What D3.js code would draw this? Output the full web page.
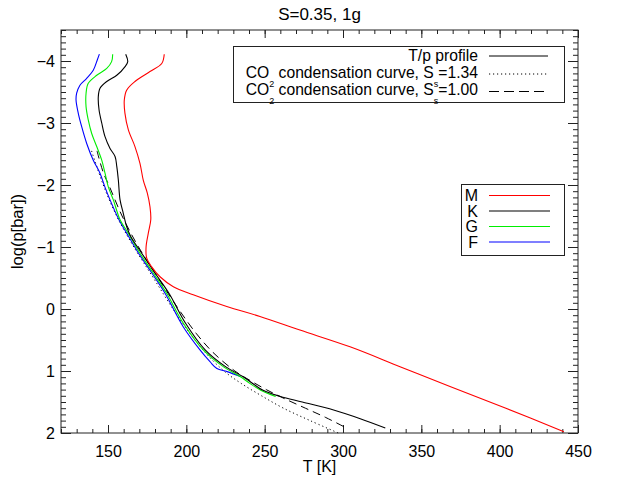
<!DOCTYPE html>
<html><head><meta charset="utf-8">
<script src="https://cdn.jsdelivr.net/npm/d3@7"></script>
<style>
body{margin:0;background:#fff}
text{font-family:"Liberation Sans",Arial,Helvetica,sans-serif;fill:#000}
</style>
</head><body>
<svg id="chart" width="617" height="477"></svg>
<script>
const title = "S=0.35, 1g";
const xLabel = "T [K]";
const yLabel = "log(p[bar])";
const xDomain = [120, 450];
const yDomain = [-4.5, 2];
const xTickValues = [150, 200, 250, 300, 350, 400, 450];
const yTickValues = [-4, -3, -2, -1, 0, 1, 2];

// M star profile
const mLogP = [-4.11,-3.96,-3.83,-3.67,-3.53,-3.37,-3.16,-2.89,-2.62,-2.35,-2.08,-1.87,-1.65,-1.44,-1.22,-1.0,-0.82,-0.68,-0.52,-0.36,-0.23,-0.04,0.12,0.34,0.61,0.93,1.25,1.6,1.98];
const mT    = [185.9,184.3,176.8,167.2,161.9,160.4,160.8,163,167.2,170.4,172.5,175.1,176.8,177.3,175.7,174.3,174.7,177.9,183.2,191.7,204.4,225.8,247,272.5,304.5,336.4,368.3,404,441];
// K star profile
const kLogP = [-4.11,-3.99,-3.91,-3.77,-3.67,-3.56,-3.42,-3.21,-3.0,-2.78,-2.59,-2.46,-2.30,-2.08,-1.76,-1.54,-1.33,-1.17,-0.90,-0.58,-0.25,0.23,0.66,0.93,1.09,1.31,1.41,1.5,1.63,1.77,1.92];
const kT    = [161.3,162.6,160.9,155.6,149.2,144.9,143.8,144.3,146,148.1,151.3,154.5,155.6,156.6,157.7,159.8,161.9,164.5,171.5,180,189,199.5,212,225,236,249,260,274,294,311,327];
// G star profile
const gLogP = [-4.11,-3.99,-3.88,-3.77,-3.64,-3.48,-3.26,-3.05,-2.83,-2.62,-2.40,-2.19,-1.97,-1.76,-1.44,-1.22,-0.90,-0.58,-0.25,0.23,0.66,0.93,1.09,1.2,1.31,1.41];
const gT    = [153,152.3,149.2,142.8,137.4,136,136,137.4,139.6,142.8,146,148.1,150.2,153.4,157.7,163,170.4,178.9,187.5,198.1,210.8,223.6,234.3,240.5,247.5,257];
// F star profile
const fLogP = [-4.11,-4.02,-3.85,-3.72,-3.61,-3.48,-3.37,-3.16,-2.94,-2.67,-2.40,-2.19,-1.97,-1.76,-1.44,-1.22,-0.90,-0.58,-0.25,0.29,0.66,0.85,0.96,1.01,1.09];
const fT    = [144.5,143.2,140.6,136.4,132.1,130,129.6,131,133.2,136.4,140.6,144.9,148,151.3,157,162,169.5,178,186.5,198.1,208.7,215.1,219.5,226,234.5];
// CO2 condensation curve, Ss = 1.34 (dotted)
const cond134LogP = [-2.55,-2.0,-1.5,-1.0,-0.5,0.0,0.4,0.7,1.0,1.2,1.4,1.6,1.8,2.0];
const cond134T    = [139.5,147,155.5,166.5,179,191.5,202.5,212,224,235,248,262,279,297];
// CO2 condensation curve, Ss = 1.00 (dashed)
const cond100LogP = [-2.55,-2.2,-2.0,-1.5,-1.0,-0.5,0.0,0.4,0.7,1.0,1.15,1.3,1.45,1.6,1.75,1.93];
const cond100T    = [143,147,150.5,159,169.5,182,195,206.5,217,231,240.5,251,263,276,289,303];

const starNames  = ["M", "K", "G", "F"];
const starColors = ["#ff0000", "#000000", "#00ee00", "#0000ff"];

const svg = d3.select("#chart");
const X0 = 61, X1 = 578, Y0 = 30, Y1 = 433;
const x = d3.scaleLinear().domain(xDomain).range([X0, X1]);
const y = d3.scaleLinear().domain(yDomain).range([Y0, Y1]);

const minorX = d3.range(xDomain[0], xDomain[1] + 0.1, 10);
const minorY = d3.range(-45, 21).map(v => v / 10);

function styleAxis(g) {
  g.select(".domain").remove();
  g.selectAll(".tick line").attr("stroke", "#222").attr("stroke-width", 1);
  g.selectAll("text").style("font-size", "16px").attr("fill", "#000");
}

// bottom axis
svg.append("g").attr("transform", `translate(0,${Y1})`)
  .call(d3.axisBottom(x).tickValues(minorX).tickSizeInner(-4).tickSizeOuter(0).tickFormat(""))
  .call(styleAxis);
svg.append("g").attr("transform", `translate(0,${Y1})`)
  .call(d3.axisBottom(x).tickValues(xTickValues).tickSizeInner(-8).tickSizeOuter(0).tickPadding(13).tickFormat(d3.format("d")))
  .call(styleAxis);
// top axis
svg.append("g").attr("transform", `translate(0,${Y0})`)
  .call(d3.axisTop(x).tickValues(minorX).tickSizeInner(-4).tickSizeOuter(0).tickFormat(""))
  .call(styleAxis);
svg.append("g").attr("transform", `translate(0,${Y0})`)
  .call(d3.axisTop(x).tickValues(xTickValues).tickSizeInner(-8).tickSizeOuter(0).tickFormat(""))
  .call(styleAxis);
// left axis
svg.append("g").attr("transform", `translate(${X0},0)`)
  .call(d3.axisLeft(y).tickValues(minorY).tickSizeInner(-5).tickSizeOuter(0).tickFormat(""))
  .call(styleAxis);
svg.append("g").attr("transform", `translate(${X0},0)`)
  .call(d3.axisLeft(y).tickValues(yTickValues).tickSizeInner(-10).tickSizeOuter(0).tickPadding(6).tickFormat(d3.format("d")))
  .call(styleAxis);
// right axis
svg.append("g").attr("transform", `translate(${X1},0)`)
  .call(d3.axisRight(y).tickValues(minorY).tickSizeInner(-5).tickSizeOuter(0).tickFormat(""))
  .call(styleAxis);
svg.append("g").attr("transform", `translate(${X1},0)`)
  .call(d3.axisRight(y).tickValues(yTickValues).tickSizeInner(-10).tickSizeOuter(0).tickFormat(""))
  .call(styleAxis);

// frame
svg.append("rect").attr("x", X0).attr("y", Y0).attr("width", X1 - X0).attr("height", Y1 - Y0)
  .attr("fill", "none").attr("stroke", "#222").attr("stroke-width", 1);

// curves
const line = d3.line().x(d => x(d[0])).y(d => y(d[1])).curve(d3.curveCatmullRom.alpha(0.5));
const zip = (t, p) => t.map((v, i) => [v, p[i]]);
const plot = svg.append("g");
plot.append("path").datum(zip(cond134T, cond134LogP)).attr("d", line)
  .style("fill", "none").style("stroke", "#000").style("stroke-width", 1).style("stroke-dasharray", "1.2,2.8");
plot.append("path").datum(zip(cond100T, cond100LogP)).attr("d", line)
  .style("fill", "none").style("stroke", "#000").style("stroke-width", 1).style("stroke-dasharray", "8,5");
const profiles = [[fT, fLogP, 3], [gT, gLogP, 2], [kT, kLogP, 1], [mT, mLogP, 0]];
profiles.forEach(([t, p, ci]) => {
  plot.append("path").datum(zip(t, p)).attr("d", line)
    .style("fill", "none").style("stroke", starColors[ci]).style("stroke-width", 1.1);
});

// title and axis labels
svg.append("text").attr("x", (X0 + X1) / 2).attr("y", 20).attr("text-anchor", "middle")
  .style("font-size", "17px").text(title);
svg.append("text").attr("x", (X0 + X1) / 2).attr("y", 472).attr("text-anchor", "middle")
  .style("font-size", "16px").text(xLabel);
svg.append("text").attr("transform", `translate(23,${(Y0 + Y1) / 2}) rotate(-90)`).attr("text-anchor", "middle")
  .style("font-size", "16.5px").text(yLabel);

// legend 1
const lg1 = svg.append("g");
lg1.append("rect").attr("x", 233.5).attr("y", 46.5).attr("width", 331).attr("height", 56)
  .style("fill", "#fff").style("stroke", "#222").style("stroke-width", 1);
const lgTextX = 478, lgLineX0 = 489, lgLineX1 = 548;
lg1.append("text").attr("x", lgTextX).attr("y", 61).attr("text-anchor", "end").style("font-size", "15.7px").text("T/p profile");
lg1.append("line").attr("x1", lgLineX0).attr("x2", lgLineX1).attr("y1", 56).attr("y2", 56)
  .style("stroke", "#000").style("stroke-width", 1);
const condRows = [["1.34", 78, "1.2,2.8", 74], ["1.00", 95, "10,5", 91.5]];
condRows.forEach(([s, yy, dash, ly]) => {
  const t = lg1.append("text").attr("x", lgTextX).attr("y", yy).attr("text-anchor", "end").style("font-size", "15.7px");
  t.append("tspan").text("CO");
  t.append("tspan").attr("dy", 8.5).style("font-size", "9px").text("2");
  t.append("tspan").attr("dy", -8.5).text(" condensation curve, S");
  t.append("tspan").attr("dy", 8.5).style("font-size", "9px").text("s");
  t.append("tspan").attr("dy", -8.5).text("=" + s);
  lg1.append("line").attr("x1", lgLineX0).attr("x2", lgLineX1).attr("y1", ly).attr("y2", ly)
    .style("stroke", "#000").style("stroke-width", 1).style("stroke-dasharray", dash);
});

// legend 2
const lg2 = svg.append("g");
lg2.append("rect").attr("x", 461.5).attr("y", 184.5).attr("width", 103).attr("height", 71)
  .style("fill", "#fff").style("stroke", "#222").style("stroke-width", 1);
starNames.forEach((n, i) => {
  const yy = 201 + i * 15.5;
  lg2.append("text").attr("x", 478).attr("y", yy).attr("text-anchor", "end").style("font-size", "16px").text(n);
  lg2.append("path")
    .attr("d", `M489,${yy - 5.5}H550`)
    .attr("fill", "none")
    .attr("stroke", starColors[i])
    .attr("stroke-width", 1.2);
});
</script>
</body></html>
